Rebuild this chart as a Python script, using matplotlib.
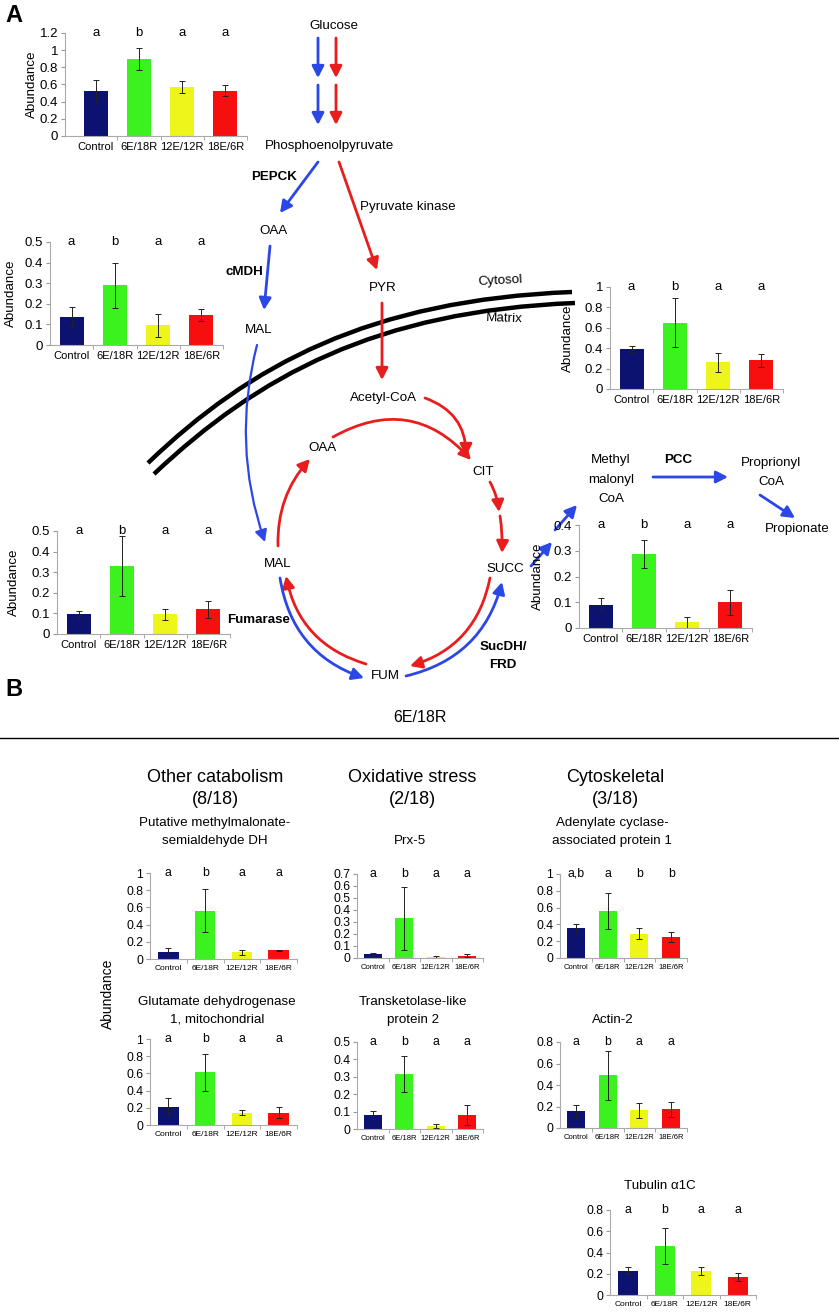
import numpy as np
import matplotlib
matplotlib.use('Agg')
import matplotlib.pyplot as plt
from matplotlib.patches import FancyArrowPatch, PathPatch
from matplotlib.path import Path

plt.rcParams['font.family'] = ['Liberation Sans', 'DejaVu Sans']

W, H = 839, 1316

# groups and colours shared by every bar chart
groups = ['Control', '6E/18R', '12E/12R', '18E/6R']
bar_colors = ['#0b1270', '#3cf21e', '#eef51a', '#f70f0f']

# panel A charts
glyc_mean = [0.53, 0.90, 0.57, 0.53]
glyc_err = [0.12, 0.13, 0.07, 0.06]
glyc_sig = ['a', 'b', 'a', 'a']
glyc_ticks = [0, 0.2, 0.4, 0.6, 0.8, 1, 1.2]

cmdh_mean = [0.135, 0.29, 0.095, 0.145]
cmdh_err = [0.05, 0.11, 0.055, 0.03]
cmdh_sig = ['a', 'b', 'a', 'a']
cmdh_ticks = [0, 0.1, 0.2, 0.3, 0.4, 0.5]

pyr_mean = [0.39, 0.65, 0.26, 0.28]
pyr_err = [0.03, 0.24, 0.09, 0.06]
pyr_sig = ['a', 'b', 'a', 'a']
pyr_ticks = [0, 0.2, 0.4, 0.6, 0.8, 1]

fum_mean = [0.095, 0.33, 0.095, 0.12]
fum_err = [0.015, 0.145, 0.027, 0.04]
fum_sig = ['a', 'b', 'a', 'a']
fum_ticks = [0, 0.1, 0.2, 0.3, 0.4, 0.5]

succ_mean = [0.09, 0.287, 0.022, 0.10]
succ_err = [0.025, 0.055, 0.022, 0.048]
succ_sig = ['a', 'b', 'a', 'a']
succ_ticks = [0, 0.1, 0.2, 0.3, 0.4]

# panel B charts
mmsdh_mean = [0.085, 0.56, 0.08, 0.10]
mmsdh_err = [0.04, 0.25, 0.03, 0.01]
mmsdh_sig = ['a', 'b', 'a', 'a']
mmsdh_ticks = [0, 0.2, 0.4, 0.6, 0.8, 1]

gdh_mean = [0.215, 0.615, 0.145, 0.145]
gdh_err = [0.10, 0.215, 0.03, 0.065]
gdh_sig = ['a', 'b', 'a', 'a']
gdh_ticks = [0, 0.2, 0.4, 0.6, 0.8, 1]

prx_mean = [0.03, 0.33, 0.01, 0.02]
prx_err = [0.01, 0.26, 0.01, 0.01]
prx_sig = ['a', 'b', 'a', 'a']
prx_ticks = [0, 0.1, 0.2, 0.3, 0.4, 0.5, 0.6, 0.7]

tkl_mean = [0.08, 0.315, 0.018, 0.08]
tkl_err = [0.025, 0.105, 0.01, 0.058]
tkl_sig = ['a', 'b', 'a', 'a']
tkl_ticks = [0, 0.1, 0.2, 0.3, 0.4, 0.5]

cap_mean = [0.36, 0.56, 0.29, 0.25]
cap_err = [0.05, 0.21, 0.065, 0.055]
cap_sig = ['a,b', 'a', 'b', 'b']
cap_ticks = [0, 0.2, 0.4, 0.6, 0.8, 1]

actin_mean = [0.16, 0.49, 0.165, 0.175]
actin_err = [0.055, 0.225, 0.07, 0.07]
actin_sig = ['a', 'b', 'a', 'a']
actin_ticks = [0, 0.2, 0.4, 0.6, 0.8]

tub_mean = [0.23, 0.465, 0.225, 0.17]
tub_err = [0.035, 0.17, 0.04, 0.035]
tub_sig = ['a', 'b', 'a', 'a']
tub_ticks = [0, 0.2, 0.4, 0.6, 0.8]

RED = '#e81e1e'
BLUE = '#2b47e6'

fig = plt.figure(figsize=(W / 100, H / 100), dpi=100)

# overlay in pixel coordinates for the pathway drawing
ov = fig.add_axes([0, 0, 1, 1])
ov.set_xlim(0, W)
ov.set_ylim(H, 0)
ov.axis('off')


def px_axes(x0, x1, ytop, ybot):
    return fig.add_axes([x0 / W, 1 - ybot / H, (x1 - x0) / W, (ybot - ytop) / H])


def bar_chart(rect, mean, err, sig, ticks, num_fs, cat_fs, ylab_x=None, x_lo=-0.5):
    ax = px_axes(*rect)
    ax.patch.set_alpha(0)
    x = np.arange(len(groups))
    ax.bar(x, mean, width=0.56, color=bar_colors, yerr=err,
           error_kw=dict(ecolor='#222222', elinewidth=0.7, capsize=2.2, capthick=0.7))
    ax.set_xlim(x_lo, 3.5)
    ax.set_ylim(0, ticks[-1])
    ax.set_yticks(ticks)
    ax.set_yticklabels([f'{t:g}' for t in ticks], fontsize=num_fs)
    ax.set_xticks(x)
    ax.set_xticklabels(groups, fontsize=cat_fs)
    ax.set_xticks([0.5, 1.5, 2.5, 3.5], minor=True)
    ax.tick_params(axis='x', which='major', length=0, pad=4)
    ax.tick_params(axis='x', which='minor', length=3, color='#999999')
    ax.tick_params(axis='y', length=3, color='#999999', pad=2)
    for s in ['top', 'right']:
        ax.spines[s].set_visible(False)
    for s in ['left', 'bottom']:
        ax.spines[s].set_color('#aaaaaa')
        ax.spines[s].set_linewidth(0.8)
    for i, s in enumerate(sig):
        ax.text(i, ticks[-1], s, ha='center', va='center', fontsize=num_fs, clip_on=False)
    if ylab_x is not None:
        yc = (rect[2] + rect[3]) / 2
        ov.text(ylab_x, yc, 'Abundance', rotation=90, ha='center', va='center', fontsize=9.6)
    return ax


def arrow(p0, p1, color, rad=0.0, lw=2.0):
    ov.add_patch(FancyArrowPatch(p0, p1, connectionstyle=f'arc3,rad={rad}',
                                 arrowstyle='-|>,head_length=7,head_width=3.6',
                                 mutation_scale=1, color=color, lw=lw,
                                 shrinkA=0, shrinkB=0))


def label(x, y, s, bold=False, fs=9.6, **kw):
    ov.text(x, y, s, ha='center', va='center', fontsize=fs,
            fontweight='bold' if bold else 'normal', **kw)


# membrane
for pts in [[(148, 463), (250, 365), (370, 300), (572, 292)],
            [(154, 474), (258, 376), (376, 311), (575, 303)]]:
    path = Path(pts, [Path.MOVETO, Path.CURVE4, Path.CURVE4, Path.CURVE4])
    ov.add_patch(PathPatch(path, fill=False, lw=3.2, color='black', capstyle='butt'))

# glycolysis part
label(334, 26, 'Glucose')
arrow((318, 38), (318, 78), BLUE)
arrow((318, 85), (318, 125), BLUE)
arrow((336, 38), (336, 78), RED)
arrow((336, 85), (336, 125), RED)
label(330, 146, 'Phosphoenolpyruvate')
arrow((318, 162), (280, 213), BLUE)
label(274, 177, 'PEPCK', bold=True)
arrow((339, 162), (377, 270), RED)
label(408, 207, 'Pyruvate kinase')
label(273, 231, 'OAA')
arrow((270, 246), (264, 310), BLUE)
label(244, 272, 'cMDH', bold=True)
label(383, 288, 'PYR')
label(259, 330, 'MAL')
label(500, 281, 'Cytosol', rotation=3)
label(504, 319, 'Matrix', rotation=-2)
arrow((382, 303), (382, 380), RED)
arrow((257, 345), (265, 542), BLUE, rad=0.15, lw=1.6)

# TCA cycle
label(383, 398, 'Acetyl-CoA')
label(322, 448, 'OAA')
label(483, 472, 'CIT')
label(278, 564, 'MAL')
label(505, 569, 'SUCC')
label(385, 676, 'FUM')
label(259, 620, 'Fumarase', bold=True)
label(503, 647, 'SucDH/', bold=True)
label(503, 665, 'FRD', bold=True)

arrow((333, 437), (471, 460), RED, rad=-0.4)
arrow((425, 398), (466, 456), RED, rad=-0.35)
arrow((490, 482), (499, 512), RED, rad=-0.1)
arrow((500, 516), (502, 553), RED, rad=-0.05)
arrow((490, 578), (410, 666), RED, rad=-0.3)
arrow((366, 664), (286, 576), RED, rad=-0.3)
arrow((278, 546), (310, 459), RED, rad=-0.2)
arrow((280, 578), (364, 678), BLUE, rad=0.3)
arrow((406, 676), (502, 582), BLUE, rad=0.3)

# propionate branch
arrow((531, 566), (552, 542), BLUE)
arrow((555, 530), (577, 505), BLUE)
label(611, 460, 'Methyl')
label(611, 480, 'malonyl')
label(611, 499, 'CoA')
label(678, 460, 'PCC', bold=True)
arrow((653, 477), (728, 477), BLUE)
label(771, 463, 'Proprionyl')
label(771, 482, 'CoA')
arrow((760, 495), (795, 518), BLUE)
label(797, 529, 'Propionate')

ov.text(14, 15, 'A', ha='center', va='center', fontsize=17, fontweight='bold')

# panel A charts
bar_chart((65, 247, 33, 136), glyc_mean, glyc_err, glyc_sig, glyc_ticks, 9.5, 8, ylab_x=32, x_lo=-0.71)
bar_chart((50, 223, 242, 345), cmdh_mean, cmdh_err, cmdh_sig, cmdh_ticks, 9.5, 8, ylab_x=11)
bar_chart((610, 783, 287, 389), pyr_mean, pyr_err, pyr_sig, pyr_ticks, 9.5, 8, ylab_x=568)
bar_chart((57, 230, 531, 634), fum_mean, fum_err, fum_sig, fum_ticks, 9.5, 8, ylab_x=14)
bar_chart((579, 752, 525, 628), succ_mean, succ_err, succ_sig, succ_ticks, 9.5, 8, ylab_x=538)

# panel B
ov.text(14, 690, 'B', ha='center', va='center', fontsize=17, fontweight='bold')
label(420, 718, '6E/18R', fs=11.5)
ov.plot([0, W], [738, 738], color='black', lw=1)

label(215, 777, 'Other catabolism', fs=13)
label(215, 799, '(8/18)', fs=13)
label(215, 823, 'Putative methylmalonate-')
label(215, 841, 'semialdehyde DH')
label(217, 1002, 'Glutamate dehydrogenase')
label(217, 1020, '1, mitochondrial')

label(412, 777, 'Oxidative stress', fs=13)
label(412, 799, '(2/18)', fs=13)
label(410, 841, 'Prx-5')
label(413, 1002, 'Transketolase-like')
label(413, 1020, 'protein 2')

label(615, 777, 'Cytoskeletal', fs=13)
label(615, 799, '(3/18)', fs=13)
label(612, 823, 'Adenylate cyclase-')
label(612, 841, 'associated protein 1')
label(613, 1020, 'Actin-2')
label(660, 1186, 'Tubulin α1C')

ov.text(108, 994, 'Abundance', rotation=90, ha='center', va='center', fontsize=10)

bar_chart((150, 297, 873, 959), mmsdh_mean, mmsdh_err, mmsdh_sig, mmsdh_ticks, 8.8, 6.0)
bar_chart((150, 297, 1039, 1125), gdh_mean, gdh_err, gdh_sig, gdh_ticks, 8.8, 6.0)
bar_chart((357, 483, 874, 958), prx_mean, prx_err, prx_sig, prx_ticks, 8.8, 5.5)
bar_chart((357, 483, 1042, 1129), tkl_mean, tkl_err, tkl_sig, tkl_ticks, 8.8, 5.5)
bar_chart((560, 687, 874, 958), cap_mean, cap_err, cap_sig, cap_ticks, 8.8, 5.5)
bar_chart((560, 687, 1042, 1128), actin_mean, actin_err, actin_sig, actin_ticks, 8.8, 5.5)
bar_chart((610, 756, 1210, 1295), tub_mean, tub_err, tub_sig, tub_ticks, 8.8, 6.0)

fig.savefig('out.png', dpi=100)
